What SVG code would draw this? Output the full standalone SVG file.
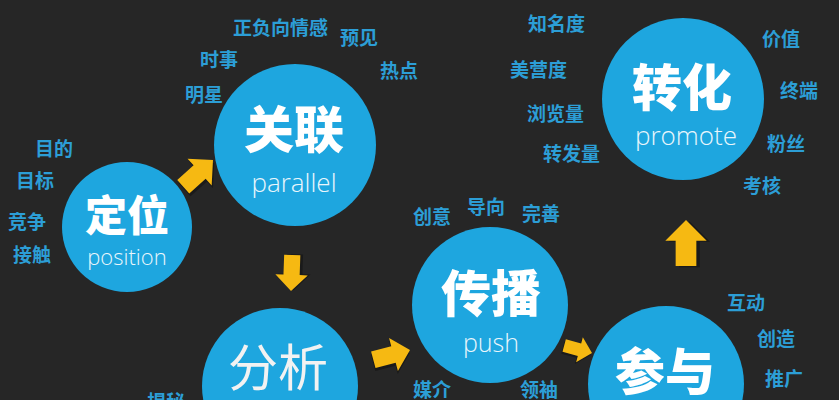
<svg xmlns="http://www.w3.org/2000/svg" width="839" height="400" viewBox="0 0 839 400">
<defs>
<style>
.bg{fill:#262626}
.node circle{fill:#1ea6df}
.big{font-family:"Noto Sans CJK SC","Noto Sans",sans-serif;font-weight:900;fill:#ffffff;text-anchor:middle}
.thin{font-weight:400;fill:#f2f2f2}
.en{font-family:"Open Sans","Liberation Sans",sans-serif;font-weight:300;fill:#eaf6fc;text-anchor:middle}
.lbl{font-family:"Noto Sans CJK SC","Noto Sans",sans-serif;font-weight:700;font-size:19px;fill:#2c9ed6}
.arrow{fill:#f6b912}
.shadow{fill:#111111;opacity:0.55}
</style>
<path id="arr" d="M0,0 L-18,-18 L-18,-9 L-40,-9 L-40,9 L-18,9 L-18,18 Z"/>
</defs>
<rect class="bg" x="0" y="0" width="839" height="400"/>

<g id="connectors">
  <g transform="translate(213,160) rotate(-42)">
    <use href="#arr" class="shadow" transform="translate(-1,3)"/>
    <use href="#arr" class="arrow"/>
  </g>
  <g transform="translate(291,291) rotate(92) scale(0.9)">
    <use href="#arr" class="shadow" transform="translate(-1,-3)"/>
    <use href="#arr" class="arrow"/>
  </g>
  <g transform="translate(410,350) rotate(-15) scale(0.95)">
    <use href="#arr" class="shadow" transform="translate(-1,3)"/>
    <use href="#arr" class="arrow"/>
  </g>
  <g transform="translate(592,353) rotate(15) scale(0.72)">
    <use href="#arr" class="shadow" transform="translate(-1,3)"/>
    <use href="#arr" class="arrow"/>
  </g>
  <g transform="translate(686,220) rotate(-90) scale(1.15)">
    <use href="#arr" class="shadow" transform="translate(-1,3)"/>
    <use href="#arr" class="arrow"/>
  </g>
</g>

<g id="node-dingwei" class="node">
  <circle cx="127" cy="227" r="65"/>
  <text class="big" x="127" y="231" font-size="42">定位</text>
  <text class="en" x="127" y="265" font-size="22">position</text>
</g>
<g id="node-guanlian" class="node">
  <circle cx="295" cy="145" r="81"/>
  <text class="big" x="294" y="148" font-size="50">关联</text>
  <text class="en" x="294" y="192" font-size="26">parallel</text>
</g>
<g id="node-fenxi" class="node">
  <circle cx="280" cy="386" r="78"/>
  <text class="big thin" x="278" y="386" font-size="50">分析</text>
</g>
<g id="node-chuanbo" class="node">
  <circle cx="490" cy="305" r="78"/>
  <text class="big" x="491" y="312" font-size="50">传播</text>
  <text class="en" x="491" y="352" font-size="25">push</text>
</g>
<g id="node-canyu" class="node">
  <circle cx="666" cy="384" r="78"/>
  <text class="big" x="665" y="390" font-size="50">参与</text>
</g>
<g id="node-zhuanhua" class="node">
  <circle cx="683" cy="99" r="81"/>
  <text class="big" x="682" y="106" font-size="50">转化</text>
  <text class="en" x="686" y="145" font-size="26">promote</text>
</g>

<g id="labels">
  <text class="lbl" x="233" y="35">正负向情感</text>
  <text class="lbl" x="340" y="45">预见</text>
  <text class="lbl" x="200" y="67">时事</text>
  <text class="lbl" x="380" y="78">热点</text>
  <text class="lbl" x="185" y="102">明星</text>
  <text class="lbl" x="35" y="156">目的</text>
  <text class="lbl" x="16" y="188">目标</text>
  <text class="lbl" x="8" y="229">竞争</text>
  <text class="lbl" x="13" y="262">接触</text>
  <text class="lbl" x="528" y="31">知名度</text>
  <text class="lbl" x="762" y="46">价值</text>
  <text class="lbl" x="510" y="77">美营度</text>
  <text class="lbl" x="780" y="98">终端</text>
  <text class="lbl" x="527" y="121">浏览量</text>
  <text class="lbl" x="767" y="151">粉丝</text>
  <text class="lbl" x="543" y="161">转发量</text>
  <text class="lbl" x="743" y="193">考核</text>
  <text class="lbl" x="413" y="224">创意</text>
  <text class="lbl" x="467" y="214">导向</text>
  <text class="lbl" x="522" y="221">完善</text>
  <text class="lbl" x="727" y="310">互动</text>
  <text class="lbl" x="757" y="346">创造</text>
  <text class="lbl" x="765" y="386">推广</text>
  <text class="lbl" x="413" y="397">媒介</text>
  <text class="lbl" x="520" y="397">领袖</text>
  <text class="lbl" x="147" y="409">揭秘</text>
</g>
</svg>
